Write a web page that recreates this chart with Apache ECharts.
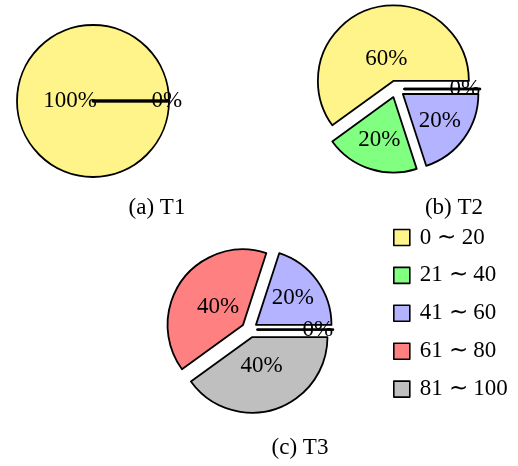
<!DOCTYPE html>
<html><head><meta charset="utf-8">
<script src="https://cdn.jsdelivr.net/npm/echarts@6/dist/echarts.min.js"></script>
<style>html,body{margin:0;padding:0;background:#fff}#c{width:518px;height:466px}</style>
</head><body><div id="c"></div>
<script>
// ---- data ----
const categories = ['0 \u223C 20', '21 \u223C 40', '41 \u223C 60', '61 \u223C 80', '81 \u223C 100'];
const colors = ['#FFF48A', '#80FF80', '#B3B3FF', '#FF8080', '#BFBFBF'];
const t1Values = [100, 0, 0, 0, 0];
const t2Values = [60, 20, 20, 0, 0];
const t3Values = [0, 0, 20, 40, 40];
const captions = ['(a) T1', '(b) T2', '(c) T3'];

// ---- layout ----
const FONT = 'Liberation Serif';
const pies = [
  { values: t1Values, center: [93, 101], r: 76, offset: 0, zeroExtra: 13, caption: [157, 208] },
  { values: t2Values, center: [396, 89], r: 75.5, offset: 8.5, zeroExtra: 0, caption: [454, 208] },
  { values: t3Values, center: [249.5, 329.6], r: 75.5, offset: 8, zeroExtra: 0, caption: [300, 448] }
];
function labelFrac(v, total) {
  const span = v / total * 360;
  return Math.max(Math.min(-span / 110 * 0.3, 0), -0.5) + 0.8;
}
const labelFont = { fontFamily: FONT, fontSize: 23, color: '#000', textBorderWidth: 0 };

const series = [];
pies.forEach((p, pi) => {
  series.push({
    type: 'pie', name: 'T' + (pi + 1), center: p.center, radius: [0, p.r],
    startAngle: 0, clockwise: false, silent: true,
    selectedMode: 'multiple', selectedOffset: p.offset,
    avoidLabelOverlap: false, label: { show: false }, labelLine: { show: false },
    emphasis: { disabled: true },
    itemStyle: { borderColor: '#000', borderWidth: 1.8 },
    select: { itemStyle: { borderColor: '#000' } },
    data: p.values.map((v, i) => ({
      name: categories[i], value: v, selected: p.offset > 0,
      itemStyle: { color: colors[i], borderWidth: v === 0 ? 2.4 : 1.8 },
      select: { itemStyle: { borderWidth: v === 0 ? 2.4 : 1.8 } }
    }))
  });
});
pies.forEach((p, pi) => {
  const total = p.values.reduce((a, b) => a + b, 0);
  p.values.forEach((v, i) => {
    const L = labelFrac(v, total) * p.r + (v === 0 ? p.zeroExtra : 0);
    series.push({
      type: 'pie', center: p.center, radius: [0, 2 * (L - 3)],
      startAngle: 0, clockwise: false, silent: true, z: 5,
      selectedMode: 'multiple', selectedOffset: p.offset,
      avoidLabelOverlap: false, labelLine: { show: false },
      emphasis: { disabled: true },
      itemStyle: { color: 'rgba(0,0,0,0)', borderWidth: 0 },
      select: { itemStyle: { color: 'rgba(0,0,0,0)', borderWidth: 0 } },
      label: Object.assign({ show: false, position: 'inside', formatter: q => q.value + '%' }, labelFont),
      data: p.values.map((vv, j) => ({
        name: 'lbl' + pi + '_' + j, value: vv, selected: p.offset > 0,
        label: { show: j === i }
      }))
    });
  });
});

const chart = echarts.init(document.getElementById('c'));
chart.setOption({
  animation: false,
  backgroundColor: '#fff',
  legend: {
    orient: 'vertical', left: 393, top: 226, padding: 0, itemWidth: 16, itemHeight: 16, itemGap: 14.9,
    icon: 'rect', data: categories, selectedMode: false,
    itemStyle: { borderColor: '#000', borderWidth: 1.6 },
    textStyle: { fontFamily: FONT, fontSize: 23, color: '#000', lineHeight: 22, padding: [0, 0, 0, 5] }
  },
  graphic: pies.map((p, i) => ({
    type: 'text', x: p.caption[0], y: p.caption[1],
    style: { text: captions[i], fontFamily: FONT, fontSize: 23, fill: '#000', textAlign: 'center', textVerticalAlign: 'middle' }
  })),
  series: series
});
</script></body></html>
